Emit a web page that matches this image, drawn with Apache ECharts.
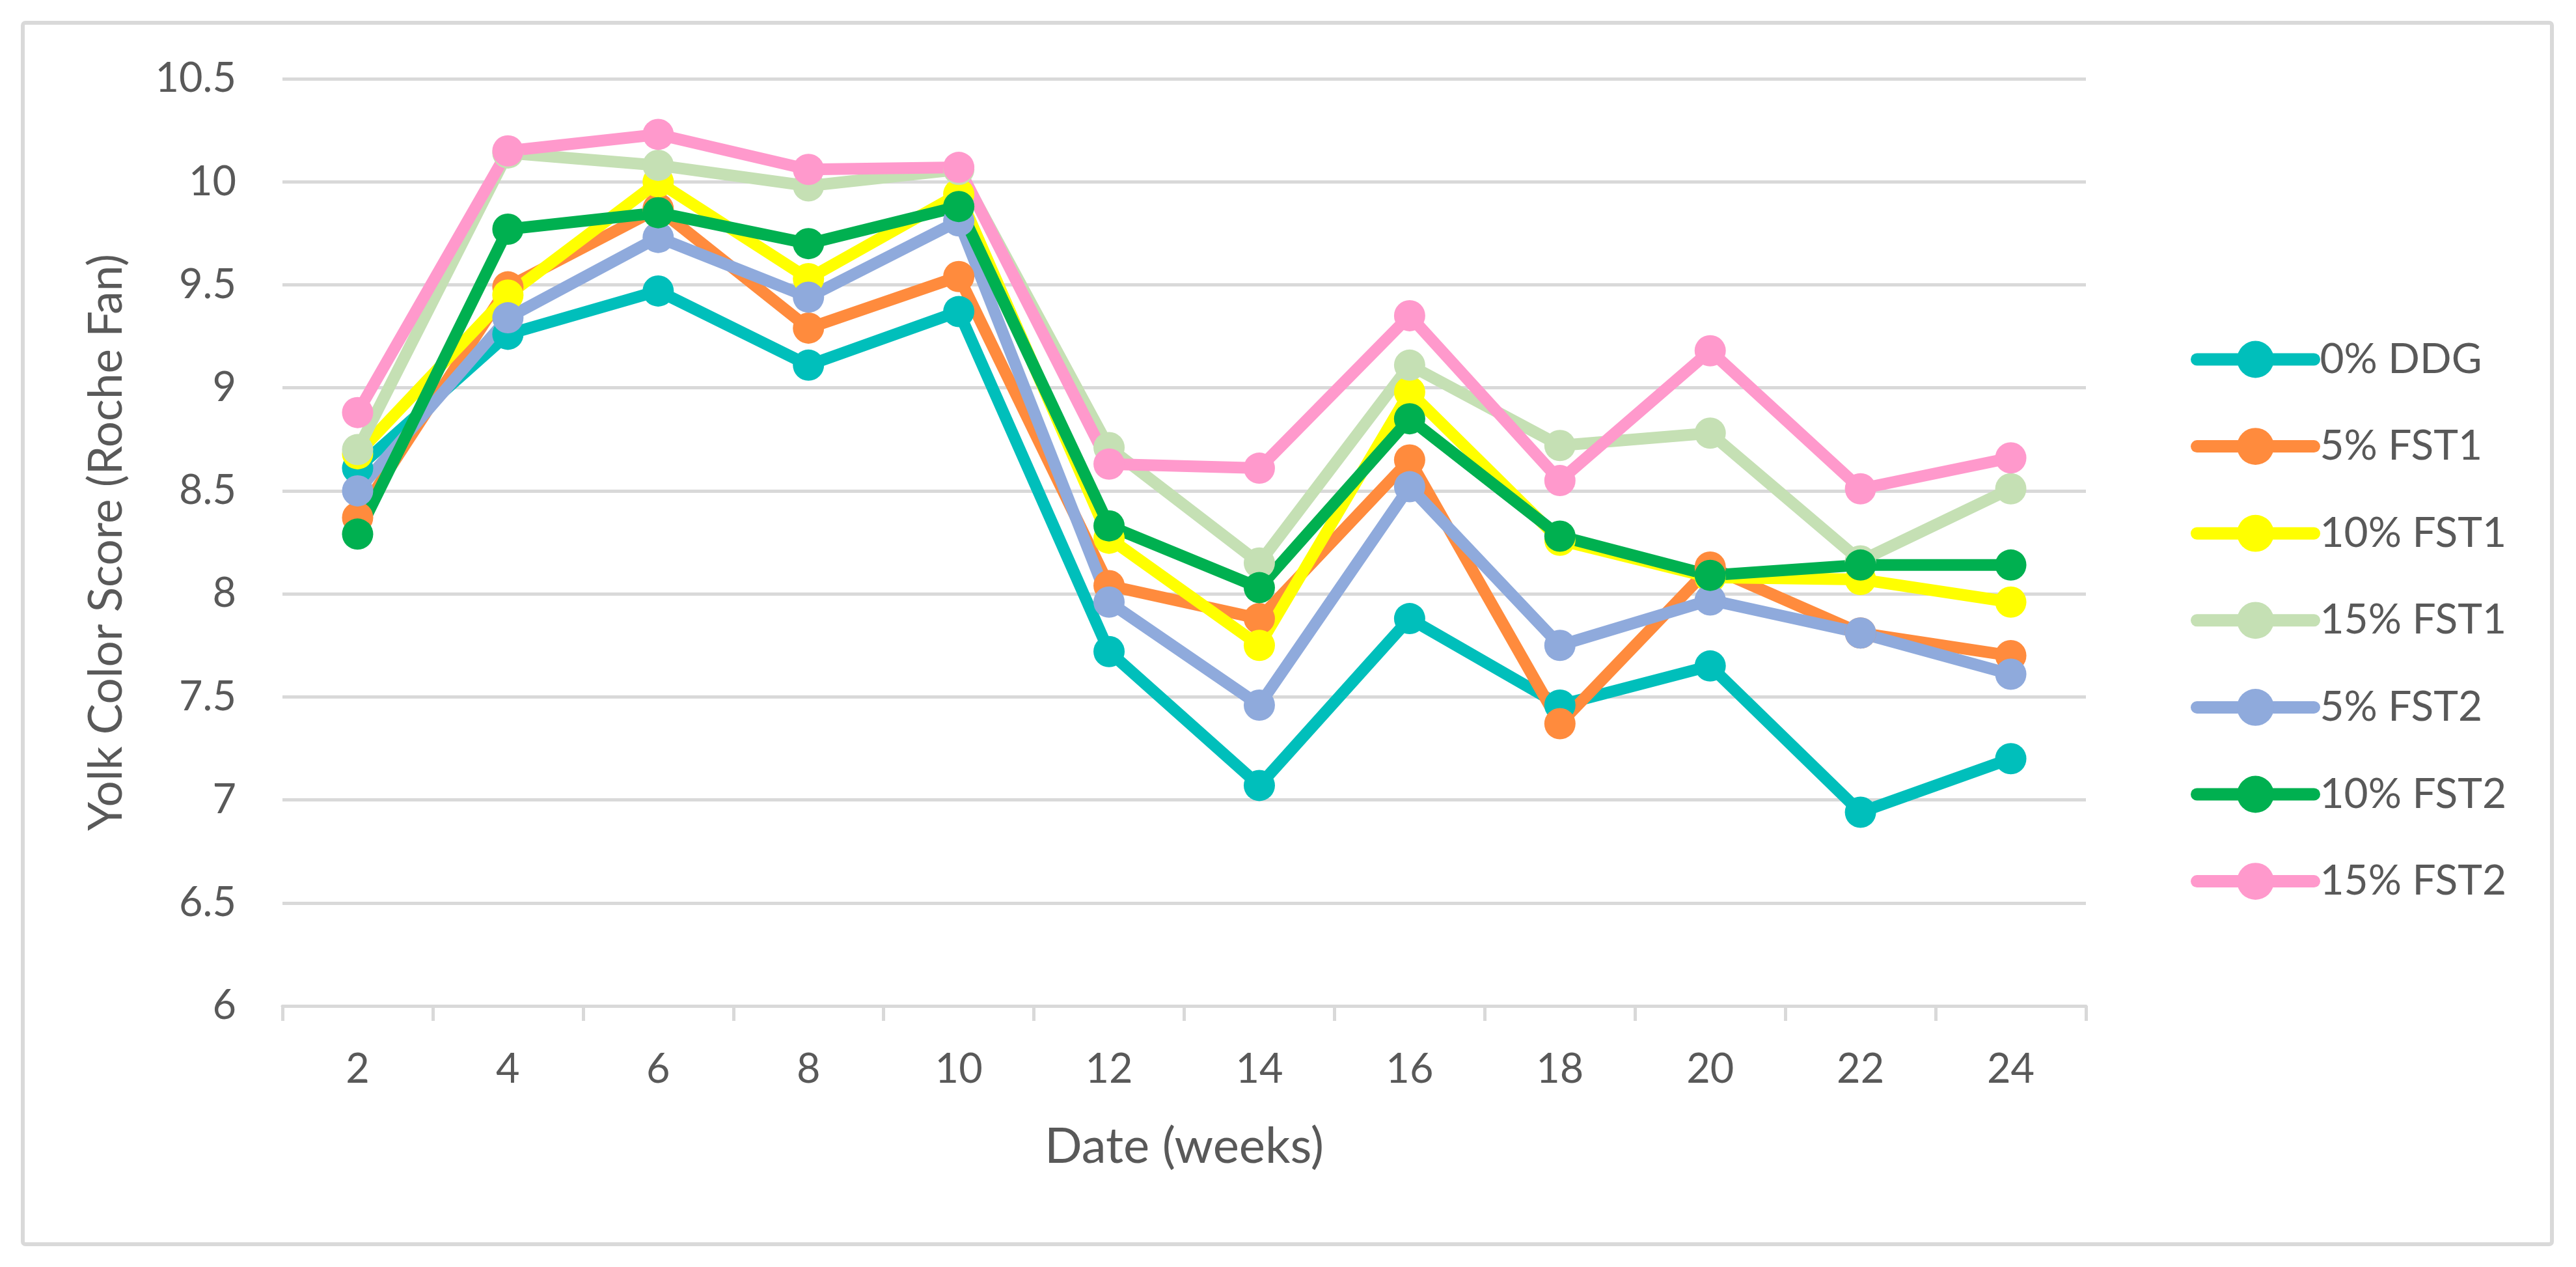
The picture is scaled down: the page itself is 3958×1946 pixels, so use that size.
<!DOCTYPE html>
<html>
<head>
<meta charset="utf-8">
<script src="https://cdn.jsdelivr.net/npm/echarts@6/dist/echarts.min.js"></script>
<style>
html,body{margin:0;padding:0;background:#fff;}
#chart{width:3958px;height:1946px;}
</style>
</head>
<body>
<div id="chart"></div>
<script>
const weeks = ['2','4','6','8','10','12','14','16','18','20','22','24'];
const seriesNames = ['0% DDG','5% FST1','10% FST1','15% FST1','5% FST2','10% FST2','15% FST2'];
const ddg0  = [8.61, 9.26, 9.47, 9.11, 9.37, 7.72, 7.07, 7.88, 7.46, 7.65, 6.94, 7.20];
const fst1_5  = [8.37, 9.49, 9.87, 9.29, 9.54, 8.04, 7.88, 8.65, 7.37, 8.13, 7.81, 7.70];
const fst1_10 = [8.68, 9.45, 10.00, 9.53, 9.94, 8.27, 7.75, 8.98, 8.26, 8.08, 8.07, 7.96];
const fst1_15 = [8.70, 10.14, 10.08, 9.98, 10.06, 8.71, 8.15, 9.11, 8.72, 8.78, 8.16, 8.51];
const fst2_5  = [8.50, 9.34, 9.73, 9.44, 9.81, 7.96, 7.46, 8.52, 7.75, 7.97, 7.81, 7.61];
const fst2_10 = [8.29, 9.77, 9.85, 9.70, 9.88, 8.33, 8.03, 8.85, 8.28, 8.09, 8.14, 8.14];
const fst2_15 = [8.88, 10.15, 10.23, 10.06, 10.07, 8.63, 8.61, 9.35, 8.55, 9.18, 8.51, 8.66];
const seriesValues = [ddg0, fst1_5, fst1_10, fst1_15, fst2_5, fst2_10, fst2_15];
const colors = ['#00BFBB','#FF8B3D','#FFFF00','#C5E0B4','#8FAADC','#00B050','#FF99CC'];

const FONT = 'Lato';
const TXT = '#595959';

const chart = echarts.init(document.getElementById('chart'), null, {renderer:'canvas'});
chart.setOption({
  animation: false,
  backgroundColor: '#fff',
  color: colors,
  graphic: [{
    type: 'rect',
    shape: {x: 35, y: 35, width: 3886, height: 1876, r: 4},
    style: {fill: 'none', stroke: '#d9d9d9', lineWidth: 6},
    silent: true, z: -1
  }],
  grid: {left: 434, right: 753, top: 121, bottom: 401, containLabel: false},
  legend: {
    orient: 'vertical',
    left: 3361,
    top: 515,
    itemWidth: 180,
    itemHeight: 71,
    itemGap: 69.6,
    lineStyle: {width: 19, cap: 'round'},
    textStyle: {fontFamily: FONT, fontSize: 64, color: TXT, padding: [0,0,0,4]},
    data: seriesNames
  },
  xAxis: {
    type: 'category',
    data: weeks,
    boundaryGap: true,
    axisLine: {show: true, lineStyle: {color: '#d9d9d9', width: 5}},
    axisTick: {show: true, length: 23, lineStyle: {color: '#d9d9d9', width: 5}},
    axisLabel: {fontFamily: FONT, fontSize: 63, color: TXT, margin: 66},
    splitLine: {show: false},
    name: 'Date (weeks)',
    nameLocation: 'middle',
    nameGap: 178,
    nameTextStyle: {fontFamily: FONT, fontSize: 76, color: TXT}
  },
  yAxis: {
    type: 'value',
    min: 6, max: 10.5, interval: 0.5,
    axisLine: {show: false},
    axisTick: {show: false},
    axisLabel: {fontFamily: FONT, fontSize: 63, color: TXT, margin: 71},
    splitLine: {show: true, lineStyle: {color: '#d9d9d9', width: 5}},
    name: 'Yolk Color Score (Roche Fan)',
    nameLocation: 'middle',
    nameGap: 234,
    nameTextStyle: {fontFamily: FONT, fontSize: 71, color: TXT}
  },
  series: seriesNames.map((n, i) => ({
    name: n,
    type: 'line',
    data: seriesValues[i],
    symbol: 'circle',
    symbolSize: 48,
    showAllSymbol: true,
    lineStyle: {width: 18, color: colors[i], cap: 'round', join: 'round'},
    itemStyle: {color: colors[i]},
    emphasis: {disabled: true}
  }))
});
</script>
</body>
</html>
